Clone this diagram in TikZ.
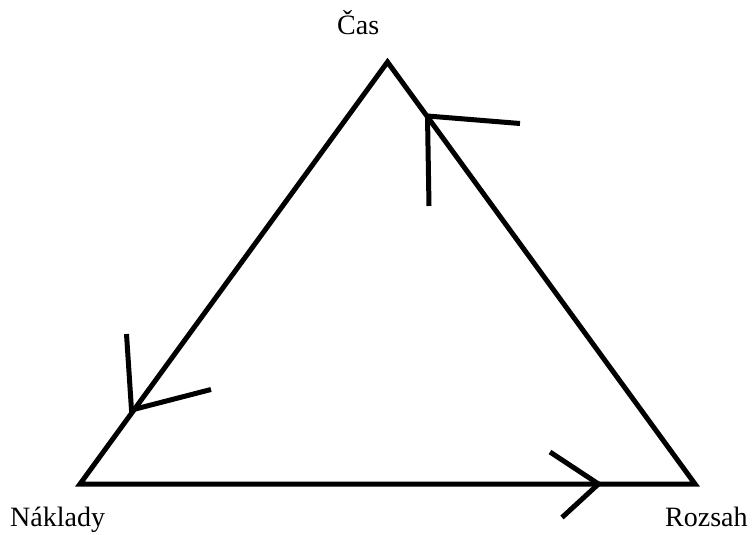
\documentclass[tikz,border=0pt]{standalone}
\usepackage{fontspec}
\setmainfont{Liberation Serif}
\begin{document}
\begin{tikzpicture}[x=1pt,y=-1pt,
  stroke/.style={line width=5pt,line cap=butt,line join=miter},
  lbl/.style={anchor=base west,inner sep=0pt,font=\fontsize{28}{30}\selectfont}]
\useasboundingbox (0,0) rectangle (753,535);
% vertices
\coordinate (T) at (387.5,62);
\coordinate (L) at (80,484);
\coordinate (R) at (695,484);
% triangle
\draw[stroke] (T) -- (L) -- (R) -- cycle;
% chevron near top (on right side)
\coordinate (tA) at (427.5,116);
\coordinate (tB) at (520,123.5);
\coordinate (tC) at (429,206);
\draw[stroke] (tB) -- (tA) -- (tC);
% chevron near left
\coordinate (lA) at (131.5,410);
\coordinate (lB) at (126.5,334);
\coordinate (lC) at (211,389.5);
\draw[stroke] (lB) -- (lA) -- (lC);
% chevron on bottom
\coordinate (bA) at (598.5,484);
\coordinate (bB) at (550,452);
\coordinate (bC) at (562,517.5);
\draw[stroke] (bB) -- (bA) -- (bC);
% labels
\node[lbl] (cas) at (337,35) {Čas};
\node[lbl] (naklady) at (10,526) {Náklady};
\node[lbl] (rozsah) at (665,526) {Rozsah};
\end{tikzpicture}
\end{document}
